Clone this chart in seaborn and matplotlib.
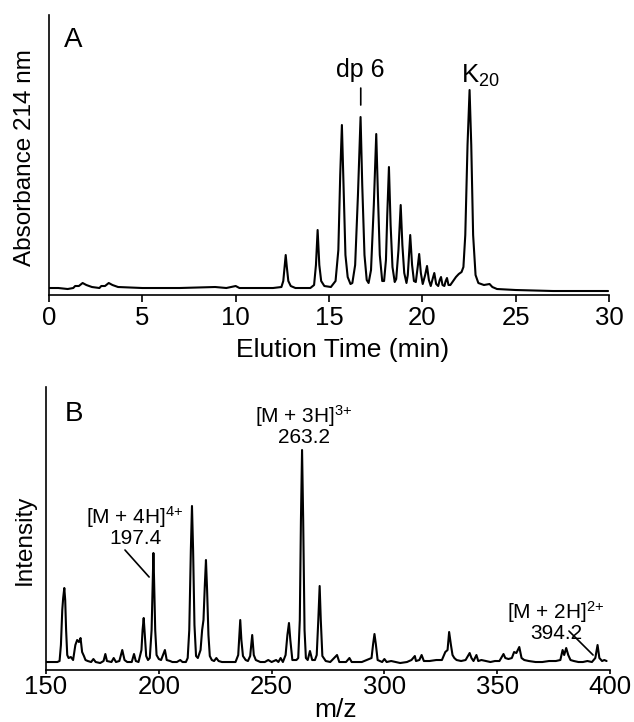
import matplotlib
matplotlib.use("Agg")
import matplotlib.pyplot as plt
import seaborn as sns

# Panel A: chromatogram trace, (elution time in min, absorbance in arbitrary units)
chrom_points = [
    (0.0, 7), (0.5, 7), (1.0, 6), (1.3, 7), (1.4, 9), (1.6, 9), (1.8, 12), (2.0, 10),
    (2.3, 8), (2.7, 7), (2.8, 9), (3.0, 9), (3.2, 12), (3.4, 10), (3.7, 8), (5.0, 7),
    (7.0, 7), (8.9, 8), (9.5, 7), (10.0, 9), (10.2, 7), (12.0, 7),
    (12.45, 8), (12.55, 14), (12.62, 28), (12.68, 40), (12.74, 28), (12.82, 14), (12.95, 9),
    (13.2, 7), (14.0, 7), (14.2, 10), (14.3, 30), (14.39, 65), (14.48, 30), (14.58, 14),
    (14.75, 9), (15.1, 8), (15.35, 14), (15.5, 45), (15.6, 120), (15.69, 170), (15.77, 115),
    (15.88, 40), (16.0, 18), (16.15, 11), (16.25, 12), (16.4, 30), (16.55, 100), (16.69, 178),
    (16.78, 110), (16.9, 40), (17.02, 15), (17.12, 12), (17.25, 25), (17.4, 90), (17.53, 161),
    (17.62, 100), (17.72, 40), (17.85, 14), (17.95, 14), (18.05, 35), (18.12, 80), (18.21, 128),
    (18.3, 70), (18.4, 28), (18.52, 13), (18.6, 16), (18.72, 45), (18.84, 90), (18.93, 50),
    (19.03, 22), (19.15, 12), (19.22, 20), (19.35, 60), (19.45, 30), (19.55, 14), (19.65, 13),
    (19.75, 28), (19.83, 41), (19.92, 22), (20.02, 11), (20.15, 20), (20.25, 29), (20.35, 15),
    (20.45, 9), (20.55, 16), (20.64, 22), (20.74, 11), (20.85, 9), (20.93, 15), (21.0, 18),
    (21.08, 10), (21.18, 9), (21.25, 14), (21.32, 17), (21.4, 10), (21.5, 10), (21.65, 14),
    (21.8, 18), (21.95, 21), (22.1, 23), (22.2, 28), (22.3, 60), (22.42, 150), (22.53, 205),
    (22.62, 150), (22.72, 60), (22.85, 20), (23.0, 12), (23.3, 10), (23.6, 11), (23.75, 8),
    (24.0, 6), (25.0, 5), (27.0, 4), (29.95, 4),
]

# Panel B: mass spectrum trace, (m/z, intensity in arbitrary units)
spectrum_points = [
    (150, 8), (155, 8), (156, 9), (156.6, 25), (157.2, 60), (157.6, 72), (158.1, 82),
    (158.5, 70), (158.9, 40), (159.4, 15), (160, 12), (161, 13), (162, 10), (163, 25),
    (163.8, 30), (164.6, 28), (165.3, 32), (166, 18), (166.8, 14), (167.5, 10), (168.5, 9),
    (170, 8), (171, 11), (172, 8), (174, 7), (175.5, 9), (176.3, 16), (177, 9), (179, 8),
    (180, 12), (181, 8), (182.5, 9), (183.8, 20), (184.8, 10), (186, 8), (188, 8), (189, 16),
    (189.8, 9), (191, 8), (192.3, 20), (192.8, 40), (193.3, 52), (193.8, 35), (194.4, 14),
    (195.2, 10), (196, 12), (196.8, 40), (197.3, 90), (197.6, 117), (197.9, 90), (198.4, 40),
    (199, 15), (200, 11), (201, 10), (202.7, 20), (203.5, 10), (205, 9), (206, 8), (208, 8),
    (209.5, 10), (210.5, 8), (212, 8), (212.8, 12), (213.5, 40), (214.2, 120), (214.7, 164),
    (215.2, 120), (215.8, 45), (216.5, 14), (217.3, 12), (218.5, 20), (219.2, 40), (219.8, 50),
    (220.4, 85), (220.9, 110), (221.4, 80), (222, 35), (222.6, 14), (223.5, 10), (224.5, 9),
    (225.5, 12), (226.5, 9), (228, 8), (232, 8), (234, 8), (235.2, 15), (235.7, 35),
    (236.1, 50), (236.6, 30), (237.3, 14), (238.5, 10), (239.5, 9), (240.5, 14), (241.4, 35),
    (242.1, 15), (243, 10), (245, 8), (247, 8), (248.5, 10), (250, 8), (252, 10), (253, 8),
    (254, 12), (255, 8), (256.2, 15), (257.0, 35), (257.7, 47), (258.3, 30), (259.2, 10),
    (261, 10), (261.8, 12), (262.5, 50), (263.0, 150), (263.5, 220), (264.0, 150),
    (264.6, 40), (265.2, 12), (266, 10), (267, 19), (268, 10), (269.2, 10), (270, 15),
    (270.7, 50), (271.3, 84), (271.8, 50), (272.5, 14), (274, 9), (276, 8), (279, 15),
    (280, 8), (283, 8), (284.5, 12), (285.5, 8), (290, 8), (294.3, 12), (295, 26),
    (295.6, 36), (296.2, 26), (297, 10), (299, 8), (300, 11), (301, 8), (303, 9), (305, 8),
    (307, 7), (310, 8), (312, 10), (313.5, 14), (314, 9), (315.5, 10), (316.5, 15),
    (317.5, 9), (320, 9), (323, 10), (325.5, 10), (327, 18), (328, 20), (328.7, 38),
    (329.5, 25), (330.2, 15), (331, 12), (332, 10), (334, 9), (336, 10), (337.8, 17),
    (338.6, 12), (339.5, 9), (340.8, 15), (341.6, 9), (343, 10), (345, 9), (347, 8),
    (349, 9), (351, 9), (352.8, 16), (353.6, 12), (355, 11), (356.5, 12), (357.5, 18),
    (358.5, 17), (359.8, 23), (360.8, 12), (362, 10), (364, 9), (367, 8), (370, 8),
    (373, 9), (376, 9), (378, 10), (379, 20), (379.7, 15), (380.6, 22), (381.5, 15),
    (382.5, 10), (384, 9), (386, 8), (388, 8), (390, 9), (392, 8), (393.5, 12),
    (394.5, 25), (395.3, 12), (396.5, 9), (397.5, 10), (398.5, 9),
]

time_ticks = [0, 5, 10, 15, 20, 25, 30]
mz_ticks = [150, 200, 250, 300, 350, 400]

elution_time = [p[0] for p in chrom_points]
absorbance = [p[1] for p in chrom_points]
mz = [p[0] for p in spectrum_points]
intensity = [p[1] for p in spectrum_points]

sns.set_theme(style="ticks")
plt.rcParams["font.family"] = ["Liberation Sans", "DejaVu Sans"]
plt.rcParams["mathtext.fontset"] = "custom"
plt.rcParams["mathtext.rm"] = "Liberation Sans"
plt.rcParams["mathtext.it"] = "Liberation Sans"
plt.rcParams["axes.linewidth"] = 1.2
plt.rcParams["text.color"] = "black"
plt.rcParams["axes.labelcolor"] = "black"
plt.rcParams["xtick.color"] = "black"
plt.rcParams["axes.edgecolor"] = "black"

fig = plt.figure(figsize=(6.34, 7.22), dpi=100)
axA = fig.add_axes([0.0773, 0.5914, 0.8833, 0.3878])
axB = fig.add_axes([0.0726, 0.0720, 0.8895, 0.3920])

# --- A ---
sns.lineplot(x=elution_time, y=absorbance, color="black", lw=1.5,
             estimator=None, sort=False, ax=axA)
axA.set_xlim(0, 30)
axA.set_ylim(0, 280)
axA.set_xticks(time_ticks)
axA.set_yticks([])
axA.tick_params(axis="x", direction="out", length=5, width=1.2, pad=3,
                labelsize=18.5)
for s in ["top", "right"]:
    axA.spines[s].set_visible(False)
axA.set_xlabel("Elution Time (min)", fontsize=19, va="baseline")
axA.xaxis.set_label_coords(0.524, -0.221)
axA.set_ylabel("Absorbance 214 nm", fontsize=17.5, va="baseline")
axA.yaxis.set_label_coords(-0.033, 0.491)
axA.text(0.044, 0.91, "A", transform=axA.transAxes, fontsize=20,
         ha="center", va="center")
axA.annotate("dp 6", xy=(16.7, 190), xytext=(16.7, 218), fontsize=18,
             ha="center", va="baseline",
             arrowprops=dict(arrowstyle="-", lw=1.2, color="black",
                             shrinkA=2, shrinkB=0))
axA.text(22.05, 212, r"K$_{\mathrm{20}}$", fontsize=18.5, ha="left", va="baseline")

# --- B ---
sns.lineplot(x=mz, y=intensity, color="black", lw=1.5,
             estimator=None, sort=False, ax=axB)
axB.set_xlim(150, 400)
axB.set_ylim(0, 283)
axB.set_xticks(mz_ticks)
axB.set_yticks([])
axB.tick_params(axis="x", direction="out", length=3, width=1.2, pad=0.5,
                labelsize=18.5)
for s in ["top", "right"]:
    axB.spines[s].set_visible(False)
axB.set_xlabel("m/z", fontsize=19, va="baseline")
axB.xaxis.set_label_coords(0.514, -0.165)
axB.set_ylabel("Intensity", fontsize=17.5, va="baseline")
axB.yaxis.set_label_coords(-0.027, 0.459)
axB.text(0.05, 0.905, "B", transform=axB.transAxes, fontsize=20,
         ha="center", va="center")

ann = dict(fontsize=15, ha="center", va="bottom", linespacing=0.95,
           multialignment="center")
axB.text(264.3, 223, "[M + 3H]$^{3{+}}$\n263.2", **ann)
axB.text(189.5, 122, "[M + 4H]$^{4{+}}$\n197.4", **ann)
axB.annotate("", xy=(195.7, 93), xytext=(185.0, 120),
             arrowprops=dict(arrowstyle="-", lw=1.2, color="black",
                             shrinkA=0, shrinkB=0))
axB.text(376.0, 27, "[M + 2H]$^{2{+}}$\n394.2", **ann)
axB.annotate("", xy=(392.5, 15), xytext=(381.8, 39),
             arrowprops=dict(arrowstyle="-", lw=1.2, color="black",
                             shrinkA=0, shrinkB=0))

fig.savefig("out.png", dpi=100)
